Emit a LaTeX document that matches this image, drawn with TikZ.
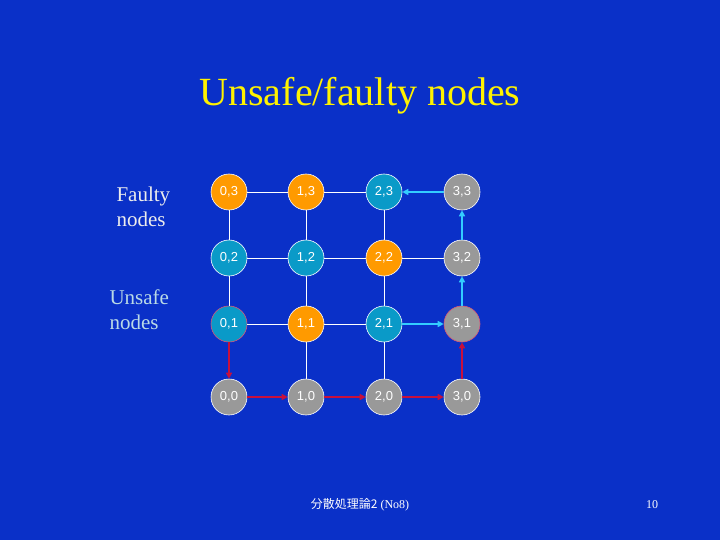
\documentclass[tikz,border=0pt]{standalone}
\usepackage{fontspec}
\setmainfont{Liberation Serif}
\newfontfamily\sansf{Liberation Sans}
\newfontfamily\cjk{Noto Sans CJK JP}
\usetikzlibrary{arrows.meta}
\definecolor{bg}{HTML}{0A30C8}
\definecolor{orn}{HTML}{FF9A00}
\definecolor{tea}{HTML}{0A9AC8}
\definecolor{gry}{HTML}{999999}
\definecolor{redl}{HTML}{C8103C}
\definecolor{cyl}{HTML}{33CCFF}
\begin{document}
\begin{tikzpicture}[x=1pt,y=-1pt,
  nd/.style={circle,draw=white,line width=0.6pt,minimum size=36pt,inner sep=0pt,text=white,font=\sansf\fontsize{13}{13}\selectfont},
  o/.style={nd,fill=orn},t/.style={nd,fill=tea},g/.style={nd,fill=gry},
  ln/.style={white,line width=0.8pt},
  ra/.style={redl,line width=2pt,-{Triangle[length=6pt,width=6pt]}},
  ca/.style={cyl,line width=2pt,-{Triangle[length=6pt,width=6pt]}}]
\fill[bg] (0,0) rectangle (720,540);
\useasboundingbox (0,0) rectangle (720,540);
\node[text=yellow,font=\fontsize{40}{40}\selectfont] (title) at (360,96) {Unsafe/faulty nodes};
\node[text=white!85!gray,align=left,font=\fontsize{21}{25}\selectfont,anchor=west] (fl) at (113,207) {Faulty\\nodes};
\node[text=white!75!cyan!80!gray,align=left,font=\fontsize{21}{25}\selectfont,anchor=west] (ul) at (106,310) {Unsafe\\nodes};
\foreach \x/\i in {229/0,306/1,384/2,462/3} {}
\node[o] (n03) at (229,192) {0,3};
\node[o] (n13) at (306,192) {1,3};
\node[t] (n23) at (384,192) {2,3};
\node[g] (n33) at (462,192) {3,3};
\node[t] (n02) at (229,258) {0,2};
\node[t] (n12) at (306,258) {1,2};
\node[o] (n22) at (384,258) {2,2};
\node[g] (n32) at (462,258) {3,2};
\node[t,draw=redl!70!white] (n01) at (229,324) {0,1};
\node[o] (n11) at (306,324) {1,1};
\node[t] (n21) at (384,324) {2,1};
\node[g,draw=redl!70!white] (n31) at (462,324) {3,1};
\node[g] (n00) at (229,397) {0,0};
\node[g] (n10) at (306,397) {1,0};
\node[g] (n20) at (384,397) {2,0};
\node[g] (n30) at (462,397) {3,0};
\draw[ln] (n03)--(n13) (n13)--(n23) (n22)--(n32) (n02)--(n12) (n12)--(n22) (n01)--(n11) (n11)--(n21);
\draw[ln] (n03)--(n02) (n02)--(n01) (n13)--(n12) (n12)--(n11) (n11)--(n10) (n23)--(n22) (n22)--(n21) (n21)--(n20);
\draw[ra] (n01)--(n00);
\draw[ra] (n00)--(n10);
\draw[ra] (n10)--(n20);
\draw[ra] (n20)--(n30);
\draw[ra] (n30)--(n31);
\draw[ca] (n21)--(n31);
\draw[ca] (n31)--(n32);
\draw[ca] (n32)--(n33);
\draw[ca] (n33)--(n23);
\node[text=white,font=\fontsize{12}{12}\selectfont] (foot) at (360,505) {{\cjk 分散処理論2} (No8)};
\node[text=white,font=\fontsize{12}{12}\selectfont] (pg) at (652,505) {10};
\end{tikzpicture}
\end{document}
